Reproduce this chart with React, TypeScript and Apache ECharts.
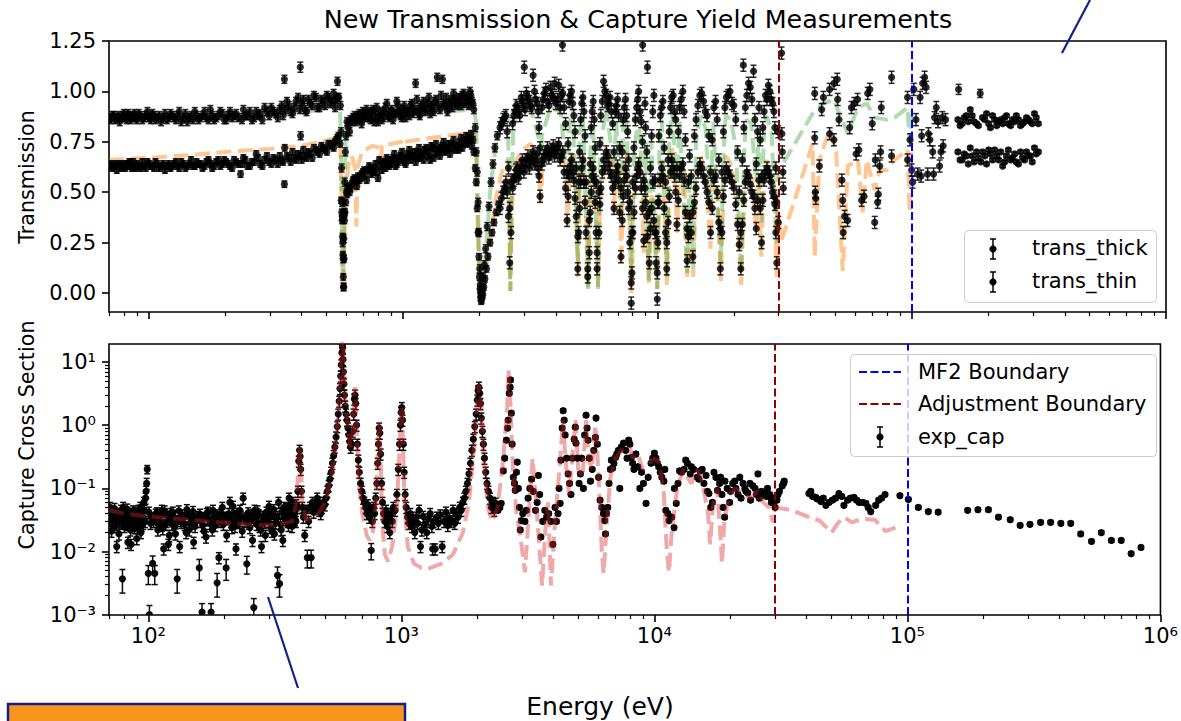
import { useEffect, useRef } from "react";
import * as echarts from "echarts";

// ---- axis ranges and ticks ----
const ENERGY_RANGE = [69.9, 1.0001e6];
const TRANS_RANGE = [-0.094, 1.25];
const CAP_RANGE = [0.00099, 19.3];

const MF2_BOUNDARY = 1e5;
const ADJUSTMENT_BOUNDARY = 3e4;

const ENERGY_MAJOR_TICKS = [1e2, 1e3, 1e4, 1e5, 1e6];
const ENERGY_MINOR_TICKS = [
  70, 80, 90, 200, 300, 400, 500, 600, 700, 800, 900, 2e3, 3e3, 4e3, 5e3, 6e3, 7e3, 8e3, 9e3,
  2e4, 3e4, 4e4, 5e4, 6e4, 7e4, 8e4, 9e4, 2e5, 3e5, 4e5, 5e5, 6e5, 7e5, 8e5, 9e5,
];
const TRANS_TICKS = [0, 0.25, 0.5, 0.75, 1.0, 1.25];
const CAP_MAJOR_TICKS = [1e-3, 1e-2, 1e-1, 1, 10];
const CAP_MINOR_TICKS = [
  0.002, 0.003, 0.004, 0.005, 0.006, 0.007, 0.008, 0.009, 0.02, 0.03, 0.04, 0.05, 0.06, 0.07, 0.08,
  0.09, 0.2, 0.3, 0.4, 0.5, 0.6, 0.7, 0.8, 0.9, 2, 3, 4, 5, 6, 7, 8, 9,
];

// ---- measured transmission, thick sample: [energy eV, transmission, (uncertainty)] ----
const TRANS_THICK_LOW: number[][] = [
  [70,.63],[72,.62],[74,.64],[76,.63],[78,.62],[80,.64],[82,.63],[84,.65],[86,.62],[88,.63],[90,.64],[93,.62],[96,.63],[99,.65],[102,.63],[105,.62],[108,.64],[112,.63],[116,.61],[120,.64],[124,.63],[128,.65],[132,.62],[137,.64],[142,.63],[147,.66],[152,.63],[157,.64],[163,.62],[169,.65],[175,.64],[181,.63],[188,.66],[195,.64],[202,.65],[209,.63],[217,.66],[225,.64],[230,.59],[236,.67],[245,.63],[255,.65],[265,.69],[275,.64],[286,.66],[298,.65],[310,.67],[322,.64],[334,.66],[342,.54],[343,.72],[350,.68],[362,.65],[374,.67],[387,.69],[400,.66],[412,.68],[425,.70],[440,.67],[455,.71],[470,.69],[486,.72],[502,.70],[518,.74],[534,.72],[548,.76],[558,.78],[566,.74],
  [71,.64],[73,.63],[75,.61],[77,.64],[79,.63],[81,.62],[83,.64],[85,.63],[87,.65],[89,.62],[91.5,.63],[94.5,.65],[97.5,.62],[100.5,.64],[103.5,.63],[106.5,.65],[110,.62],[114,.64],[118,.63],[122,.62],[126,.64],[130,.63],[134.5,.65],[139.5,.62],[144.5,.64],[149.5,.63],[154.5,.65],[160,.64],[166,.63],[172,.66],[178,.62],[184.5,.65],[191.5,.63],[198.5,.66],[205.5,.64],[213,.62],[221,.65],[233,.64],[240,.66],[250,.63],[260,.65],[270,.67],[280,.63],[292,.68],[304,.64],[316,.66],[328,.68],[338,.65],[356,.67],[368,.70],[380,.66],[393,.68],[406,.71],[418,.67],[432,.69],[447,.72],[462,.70],[478,.73],[494,.71],[510,.74],[526,.73],[541,.75],[553,.77],
  [572,.46],[575,.40],[577,.36],[579,.28],[581,.19],[583,.08],[585,.03],[587,.17],[589,.36],[592,.40],[596,.45],[600,.50],[604,.49],[608,.52],
  [612,.53],[622,.52],[637,.56],[652,.55],[666,.58],[681,.57],[696,.60],[712,.58],[729,.61],[746,.62],[763,.60],[780,.64],[798,.57],[817,.63],[835,.65],[854,.62],[874,.66],[894,.64],[915,.67],[936,.63],[957,.65],[979,.68],[1001,.66],[1024,.64],[1048,.69],[1072,.66],[1097,.68],[1122,.65],[1148,.70],[1166,.67],[1193,.69],[1220,.71],[1250,.68],[1280,.66],[1307,.72],[1335,.69],[1365,.71],[1397,.68],[1430,.73],[1462,.70],[1496,.72],[1530,.69],[1565,.74],[1600,.71],[1637,.73],[1674,.75],[1712,.72],[1752,.76],[1793,.74],[1834,.77],[1866,.73],[1900,.70],[1925,.62],
  [617,.50],[630,.54],[645,.57],[659,.53],[674,.56],[688,.59],[704,.61],[720,.56],[737,.63],[754,.59],[771,.62],[789,.60],[807,.66],[826,.61],[844,.64],[864,.67],[884,.63],[904,.66],[925,.69],[946,.64],[968,.67],[990,.70],[1012,.65],[1036,.67],[1060,.71],[1085,.68],[1110,.70],[1135,.67],[1157,.72],[1180,.69],[1207,.66],[1235,.72],[1265,.70],[1294,.73],[1321,.67],[1350,.74],[1381,.70],[1413,.72],[1446,.75],[1479,.71],[1513,.74],[1547,.72],[1582,.76],[1618,.73],[1655,.71],[1693,.77],[1732,.74],[1772,.78],[1813,.75],[1850,.79],[1883,.76],
  [1942,.55],[1960,.42],[1975,.30],[1990,.18],[2000,.08],[2010,.02],[2020,-.02],[2030,-.04],[2045,.00],[2060,-.01],[2080,.03],[2100,.07],[2130,.12],[2160,.18],[2200,.25],[2240,.30],[2280,.35],[2330,.40],[2380,.44],
];
const TRANS_THICK_MID: number[][] = [
  [2410,.42],[2480,.50],[2540,.55],[2600,.38],[2630,.15],[2660,.30],[2700,.52],[2760,.58],[2820,.62],[2880,.60],[2950,.66],[3020,.63],[3100,.68],[3170,.65],[3250,.70],[3330,.66],[3400,.62],[3460,.48],[3520,.64],[3600,.68],[3700,.72],[3800,.69],[3900,.73],[4000,.70],[4100,.74],[4200,.68],[4300,.60],[4420,.36],[4500,.58],[4600,.66],[4700,.56],[4800,.38],[4870,.12],[4950,.42],[5050,.62],[5150,.55],[5250,.30],[5330,.08],[5400,.20],[5500,.50],[5600,.62],[5700,.45],[5800,.12],[5900,.30],[6000,.52],[6150,.66],[6300,.70],[6450,.64],[6600,.58],[6760,.42],[6900,.60],[7050,.56],[7200,.18],[7350,.48],[7500,.62],[7650,.50],[7800,.25],[7900,-.05],[7950,.10],[8100,.40],[8300,.58],[8450,.64],[8650,.52],[8850,.26],[9000,.45],[9150,.28],[9300,.15],[9500,.42],[9700,.36],[9900,.15],[10000,-.03],[10150,.45],[10400,.62],[10650,.42],[10900,.12],[11150,.48],[11400,.66],[11700,.58],[11950,.34],[12250,.58],[12600,.64],[12900,.40],[13100,.16],[13400,.38],[13800,.18],[14200,.52],[14700,.64],[15200,.58],[15700,.50],[16200,.30],[16700,.56],[17200,.50],[17700,.12],[18200,.48],[18700,.62],[19300,.58],[20000,.52],[20700,.34],[21300,.12],[21900,.46],[22500,.60],[23200,.54],[23900,.48],[24500,.32],[25100,.56],[25700,.25],[26300,.56],[27000,.62],[27700,.58],[28400,.50],[29000,.44],[29500,.15],[29900,.35],
  [2440,.47],[2510,.52],[2570,.50],[2730,.56],[2790,.61],[2850,.57],[2920,.63],[2990,.60],[3060,.66],[3140,.62],[3210,.67],[3290,.64],[3370,.69],[3430,.58],[3560,.66],[3650,.70],[3750,.67],[3850,.71],[3950,.68],[4050,.72],[4150,.66],[4250,.70],[4360,.52],[4460,.48],[4550,.63],[4650,.60],[4750,.47],[4910,.30],[5000,.55],[5100,.66],[5200,.45],[5450,.40],[5550,.58],[5650,.56],[5750,.30],[5950,.44],[6080,.60],[6220,.62],[6380,.68],[6520,.60],[6680,.52],[6830,.55],[6980,.63],[7120,.40],[7280,.36],[7420,.56],[7580,.58],[7720,.42],[8020,.30],[8200,.52],[8380,.62],[8550,.60],[8750,.42],[8950,.52],[9100,.38],[9400,.32],[9600,.55],[9800,.30],[10050,.25],[10280,.56],[10520,.58],[10780,.30],[11030,.35],[11280,.60],[11550,.62],[11820,.50],[12100,.46],[12420,.62],[12750,.56],[13250,.28],[13600,.30],[14000,.45],[14450,.60],[14950,.62],[15450,.55],[15950,.45],[16450,.42],[16950,.58],[17450,.35],[17950,.30],[18450,.56],[19000,.60],[19650,.55],[20350,.44],[21000,.24],[21600,.34],[22200,.55],[22850,.58],[23550,.50],[24200,.42],[24800,.46],[25400,.42],[26000,.46],[26650,.60],[27350,.60],[28050,.55],[28750,.48],[29250,.30],
  [30900,.79],[31000,.70],[31200,.60],[31300,.52],[41600,.77],[41800,.50],[42000,.47],[43400,.63],[47600,.79],[49500,.76],[53200,.56],[53600,.46],[53800,.30],[54500,.38],[56000,.36],[60500,.69],[62000,.71],[63600,.46],[65000,.48],[71600,.35],[72000,.66],[73500,.45],[74000,.49],[74900,.63],[75500,.70],[83400,.68],[96400,.66],[98500,.76],[100000,.61],[100900,.55],[105600,.59],[109000,.58],[109500,.78],[115600,.59],[116500,.79],[118000,.76],[121000,.70],[122000,.59],[128800,.63],[130500,.70],[133000,.73],
];
const TRANS_THICK_HIGH: number[][] = [
  [152000,.70],[158000,.66],[164000,.68],[170000,.72],[176000,.65],[183000,.67],[190000,.70],[197000,.64],[204000,.69],[212000,.71],[220000,.66],[228000,.63],[236000,.68],[245000,.66],[254000,.69],[263000,.64],[273000,.67],[283000,.70],[293000,.68],[304000,.72],[315000,.70],
  [155000,.66],[161000,.69],[167000,.64],[173000,.68],[180000,.70],[187000,.65],[194000,.68],[201000,.71],[208000,.66],[216000,.68],[224000,.70],[232000,.65],[240000,.71],[249000,.67],[258000,.65],[268000,.70],[278000,.66],[288000,.68],[298000,.65],[309000,.69],
];

// ---- measured transmission, thin sample ----
const TRANS_THIN_LOW: number[][] = [
  [70,.87],[72,.88],[74,.86],[76,.88],[78,.87],[80,.89],[82,.86],[84,.88],[86,.87],[88,.89],[90,.86],[93,.88],[96,.87],[99,.90],[102,.86],[105,.88],[108,.87],[112,.85],[116,.89],[120,.87],[124,.88],[128,.86],[132,.90],[137,.87],[142,.85],[147,.88],[152,.90],[157,.86],[163,.88],[169,.87],[175,.91],[181,.86],[188,.88],[195,.89],[202,.86],[209,.90],[217,.88],[225,.87],[236,.91],[245,.88],[255,.86],[265,.90],[275,.89],[286,.92],[298,.88],[310,.90],[322,.87],[334,.93],[342,1.06,.02],[345,.91],[350,.95],[362,.90],[374,.92],[387,.97],[395,1.12,.025],[396,.78],[400,.94],[412,.91],[425,.96],[440,.93],[455,.97],[470,.92],[486,.95],[502,.98],[518,.94],[534,.99],[546,.96],[553,1.05],[560,.97],[568,.93],
  [71,.86],[73,.88],[75,.87],[77,.85],[79,.88],[81,.87],[83,.89],[85,.86],[87,.88],[89,.87],[91.5,.89],[94.5,.86],[97.5,.88],[100.5,.87],[103.5,.89],[106.5,.86],[110,.88],[114,.87],[118,.86],[122,.89],[126,.87],[130,.88],[134.5,.85],[139.5,.89],[144.5,.87],[149.5,.86],[154.5,.88],[160,.87],[166,.90],[172,.86],[178,.88],[184.5,.87],[191.5,.90],[198.5,.86],[205.5,.88],[213,.87],[221,.89],[233,.86],[240,.88],[250,.90],[260,.87],[270,.88],[280,.86],[292,.90],[304,.92],[316,.89],[328,.91],[338,.88],[356,.93],[368,.89],[380,.95],[393,.91],[406,.96],[418,.90],[432,.94],[447,.98],[462,.92],[478,.96],[494,.93],[510,.97],[526,.95],[541,.92],[553,.97],
  [571,.80],[574,.62],[576,.45],[578,.38],[580,.25],[582,.17],[584,.03],[586,.27],[588,.40],[591,.55],[594,.70],[598,.78],[603,.85],[608,.82],
  [612,.84],[622,.86],[637,.87],[652,.85],[666,.88],[681,.86],[696,.90],[712,.87],[729,.89],[746,.86],[763,.91],[780,.88],[798,.85],[817,.90],[835,.87],[854,.92],[874,.88],[894,.90],[915,.86],[936,.89],[957,.93],[979,.88],[1001,.91],[1024,.87],[1048,.90],[1072,.93],[1097,.89],[1122,1.04],[1148,.91],[1166,.88],[1193,.92],[1220,.90],[1250,.94],[1280,.89],[1307,.92],[1335,.95],[1365,1.07],[1397,.91],[1430,1.06],[1462,.93],[1496,.90],[1530,.94],[1565,.92],[1600,.96],[1637,.93],[1674,.95],[1712,.98],[1752,.94],[1793,.97],[1834,1.00],[1866,.95],[1900,.91],[1925,.82],
  [617,.80],[630,.85],[645,.88],[659,.86],[674,.89],[688,.84],[704,.88],[720,.91],[737,.87],[754,.90],[771,.85],[789,.92],[807,.88],[826,.86],[844,.90],[864,.94],[884,.87],[904,.91],[925,.89],[946,.95],[968,.90],[990,.87],[1012,.93],[1036,.90],[1060,.88],[1085,.94],[1110,.91],[1135,.96],[1157,.89],[1180,.93],[1207,.95],[1235,.91],[1265,.97],[1294,.93],[1321,.90],[1350,.96],[1381,.93],[1413,.98],[1446,.94],[1479,.97],[1513,.92],[1547,.96],[1582,.99],[1618,.94],[1655,.97],[1693,.93],[1732,.99],[1772,.96],[1813,.93],[1850,.98],[1883,.94],
  [1942,.70],[1960,.60],[1975,.45],[1990,.30],[2005,.12],[2015,.04],[2025,.00],[2040,-.03],[2055,.02],[2070,.08],[2090,.14],[2115,.22],[2145,.33],[2180,.43],[2220,.55],[2260,.64],[2300,.72],[2350,.78],
];
const TRANS_THIN_MID: number[][] = [
  [2410,.82],[2480,.86],[2540,.88],[2600,.62],[2630,.42],[2660,.55],[2700,.84],[2760,.90],[2820,.92],[2880,.88],[2950,.95],[3000,1.12],[3020,.91],[3100,.97],[3170,.93],[3250,1.08],[3330,.96],[3400,.90],[3460,.72],[3520,.92],[3600,.99],[3700,.95],[3800,1.02],[3900,.97],[4000,.94],[4100,1.03],[4200,.98],[4240,1.23],[4300,.92],[4420,.60],[4500,.95],[4600,1.00],[4700,.88],[4800,.62],[4870,.28],[4950,.70],[5050,.94],[5150,.90],[5250,.55],[5330,.12],[5400,.36],[5500,.82],[5600,.95],[5700,.72],[5800,.20],[5900,.50],[6000,.88],[6150,1.05],[6300,.98],[6450,.94],[6600,.90],[6760,.70],[6900,.93],[7050,.88],[7200,.52],[7350,.86],[7500,.96],[7650,.80],[7800,.45],[7900,.05],[7950,.30],[8100,.72],[8300,.92],[8450,1.00],[8650,.85],[8760,1.23],[8850,.56],[9000,.82],[9150,1.12],[9300,.40],[9500,.78],[9700,.98],[9900,.30],[10000,.10],[10150,.78],[10400,.92],[10650,.72],[10900,.25],[11150,.80],[11400,.97],[11700,.90],[11950,.62],[12250,.92],[12600,1.00],[12900,.76],[13100,.32],[13400,.68],[13800,.40],[14200,.86],[14700,.98],[15200,.95],[15700,.88],[16200,.60],[16700,.92],[17200,.86],[17700,.32],[18200,.80],[18700,.97],[19300,1.00],[20000,.93],[20700,.70],[21300,.30],[21800,1.13],[21900,.82],[22500,.98],[23200,1.02],[23900,1.10],[24500,.64],[25100,.92],[25700,.58],[26300,.90],[27000,.96],[27700,1.00],[28400,.94],[29000,.82],[29500,.45],[29900,.80],
  [2440,.84],[2510,.87],[2570,.80],[2730,.88],[2790,.93],[2850,.90],[2920,.97],[2990,.93],[3060,.99],[3140,.95],[3210,.92],[3290,1.00],[3370,.94],[3430,.82],[3560,.96],[3650,1.01],[3750,.93],[3850,.98],[3950,1.04],[4050,.96],[4150,.92],[4250,.99],[4360,.84],[4460,.74],[4550,.98],[4650,.94],[4750,.80],[4910,.55],[5000,.86],[5100,.97],[5200,.78],[5450,.64],[5550,.90],[5650,.86],[5750,.55],[5950,.74],[6080,.95],[6220,1.00],[6380,.93],[6520,.97],[6680,.84],[6830,.90],[6980,.96],[7120,.72],[7280,.70],[7420,.92],[7580,.88],[7720,.66],[8020,.55],[8200,.86],[8380,.96],[8550,.90],[8750,.75],[8950,.94],[9100,.70],[9400,.62],[9600,.90],[9800,.56],[10050,.45],[10280,.88],[10520,.95],[10780,.55],[11030,.66],[11280,.92],[11550,.98],[11820,.86],[12100,.80],[12420,.96],[12750,.90],[13250,.55],[13600,.58],[14000,.78],[14450,.93],[14950,.99],[15450,.90],[15950,.78],[16450,.76],[16950,.95],[17450,.66],[17950,.60],[18450,.92],[19000,.98],[19650,.94],[20350,.86],[21000,.50],[21600,.66],[22200,.92],[22850,1.04],[23550,.96],[24200,.86],[24800,.80],[25400,.76],[26000,.82],[26650,.98],[27350,1.03],[28050,.96],[28750,.90],[29250,.62],
  [30800,1.19],[41600,.99],[44300,.91],[45000,.97],[47600,1.01],[49500,1.04],[51000,1.06],[51200,.96],[51800,.86],[57100,.82],[58000,.92],[59500,.94],[61300,.96],[67200,.99],[68500,1.01],[70000,.84],[76000,.92],[83400,1.07],[96400,.97],[102000,1.01],[104000,.86],[108000,.97],[110500,1.04],[112500,1.07],[114000,1.02],[123100,.87],[125000,.92],[127000,.85],[132000,.87],[136000,.86],
];
const TRANS_THIN_HIGH: number[][] = [
  [152000,.86],[153000,1.01,.025],[158000,.84],[164000,.88],[170000,.91],[176000,.85],[183000,.83],[186000,.99,.02],[190000,.87],[197000,.89],[204000,.82],[212000,.86],[220000,.85],[228000,.84],[236000,.88],[245000,.83],[254000,.85],[263000,.86],[273000,.84],[283000,.87],[293000,.85],[304000,.89],[315000,.84],
  [155000,.83],[161000,.87],[167000,.85],[173000,.88],[180000,.84],[194000,.86],[201000,.84],[208000,.88],[216000,.83],[224000,.86],[232000,.87],[240000,.84],[249000,.86],[258000,.88],[268000,.83],[278000,.85],[288000,.86],[298000,.84],[309000,.87],
];

// ---- fitted transmission curves: [energy eV, transmission] ----
const FIT_THICK: number[][] = [
  [70,.66],[100,.67],[150,.685],[200,.70],[300,.715],[400,.73],[480,.75],[540,.77],[566,.76],[574,.45],[579,.08],[583,.02],[588,.25],[596,.52],[610,.63],[630,.68],[648,.62],[656,.33],[663,.62],[690,.70],[760,.73],[812,.72],[818,.62],[826,.73],[990,.75],[1002,.68],[1012,.75],[1300,.77],[1700,.79],[1900,.79],[1935,.70],[1962,.40],[1995,.05],[2030,-.01],[2070,.02],[2130,.12],[2220,.30],[2330,.48],[2450,.60],[2580,.66],[2620,.30],[2645,.01],[2670,.30],[2720,.62],[2900,.70],[3170,.74],[3400,.68],[3480,.45],[3560,.68],[3800,.74],[4160,.72],[4380,.60],[4440,.33],[4520,.62],[4650,.70],[4800,.50],[4870,.08],[4950,.50],[5100,.68],[5250,.40],[5340,.03],[5450,.45],[5590,.66],[5750,.40],[5850,.03],[5960,.45],[6290,.72],[6600,.66],[6760,.40],[6900,.65],[7100,.60],[7210,.14],[7350,.60],[7550,.70],[7780,.40],[7910,.00],[8100,.45],[8440,.68],[8700,.55],[8850,.20],[9000,.50],[9270,.05],[9480,.50],[9700,.40],[10000,.02],[10200,.55],[10420,.66],[10700,.40],[10900,.04],[11150,.55],[11420,.72],[11700,.60],[11960,.30],[12250,.66],[12800,.60],[13110,.08],[13400,.40],[13860,.08],[14200,.55],[14770,.68],[15470,.60],[16190,.22],[16600,.62],[17200,.55],[17760,.06],[18300,.55],[18590,.68],[19470,.64],[20390,.50],[21350,.04],[22000,.50],[22360,.62],[23410,.58],[24000,.45],[24510,.30],[25000,.55],[25660,.18],[26300,.60],[26870,.66],[28140,.55],[29000,.45],[29460,.08],[29900,.40],[30800,.26],[40800,.74],[41600,.18],[43400,.66],[47600,.81],[50500,.70],[53600,.11],[56100,.63],[61500,.66],[64200,.40],[66600,.66],[71600,.51],[74900,.61],[79800,.61],[85700,.66],[96400,.71],[98200,.40],[100000,.77],
];
const FIT_THIN: number[][] = [
  [70,.87],[200,.875],[400,.89],[540,.93],[566,.92],[573,.60],[578,.15],[582,.01],[587,.30],[596,.75],[612,.85],[700,.87],[1000,.89],[1500,.90],[1900,.91],[1940,.85],[1965,.55],[1995,.15],[2030,.00],[2070,.05],[2130,.25],[2220,.55],[2330,.75],[2450,.85],[2580,.88],[2625,.45],[2645,.01],[2670,.45],[2720,.85],[2900,.90],[3170,.92],[3450,.75],[3480,.62],[3520,.78],[3800,.92],[4160,.90],[4440,.55],[4520,.85],[4650,.90],[4870,.15],[4950,.80],[5100,.88],[5340,.02],[5450,.70],[5590,.85],[5850,.02],[5960,.70],[6290,.92],[6760,.62],[6900,.85],[7210,.40],[7350,.85],[7550,.88],[7910,.05],[8100,.70],[8440,.88],[8850,.45],[9000,.75],[9270,.05],[9480,.75],[10000,.02],[10200,.75],[10420,.86],[10900,.08],[11150,.75],[11420,.90],[11960,.55],[12250,.85],[13110,.10],[13400,.60],[13860,.12],[14200,.75],[14770,.88],[15470,.82],[16190,.42],[16600,.85],[17760,.15],[18300,.75],[18590,.88],[19470,.86],[20390,.72],[21350,.10],[22000,.72],[22360,.86],[23410,.84],[24510,.55],[25000,.78],[25660,.35],[26300,.82],[26870,.88],[28140,.80],[29460,.25],[29900,.60],[30800,.63],[40800,.89],[44900,.94],[49500,.96],[51200,.91],[56100,.79],[61500,.92],[66600,.94],[71600,.87],[79800,.86],[85700,.87],[96400,.92],[98200,.75],[100000,.92],
];

// ---- measured capture cross section: [energy eV, barn, (uncertainty)] ----
const CAP_REL_ERR_LOW = 0.2;
const CAP_REL_ERR_HIGH = 0.07;
const EXP_CAP_LOW: number[][] = [
  [70,.035],[71,.028],[72,.042],[73,.025],[74,.032],[75,.012],[76,.038],[77,.03],[78,.045],[79,.0037,.0015],[80,.034],[81,.04],[82,.027],[83,.014],[84,.036],[85,.022],[86,.031],[87,.044],[88,.024],[89,.033],[90,.016],[91,.038],[92,.029],[93,.05],[94,.026],[95,.035],[96,.06],[97,.03],[98,.09],[99,.2,.03],[100,.0045,.0015],[100.5,.042],[101,.001,.0004],[102,.028],[103,.034],[104,.0065,.002],[106,.0045,.0015],[107,.039],[109,.022],[111,.031],[113,.045],[115,.011],[117,.027],[119,.036],[121,.018],[123,.033],[125,.042],[127,.025],[130,.0037,.0015],[131,.031],[133,.012],[136,.038],[139,.027],[142,.046],[145,.022],[148,.035],[151,.014],[154,.03],[159,.0055,.002],[160,.039],[163,.0011,.0004],[164,.026],[167,.034],[169,.017],[172,.042],[175,.028],[177,.0011,.0004],[179,.022],[182,.036],[185,.031],[187,.0032,.0013],[190,.008],[194,.04],[198,.027],[203,.0055,.002],[206,.033],[210,.06],[214,.024],[218,.037],[222,.011],[226,.03],[230,.045],[235,.021],[240,.034],[245,.0064,.002],[250,.028],[255,.038],[258,.015],[261,.0013,.0005],[265,.032],[270,.044],[275,.025],[280,.012],[285,.031],[290,.018],[295,.036],[300,.052],[305,.024],[310,.04],[315,.019],[320,.033],[324,.0042,.0015],[327,.06],[330,.0031,.0012],[333,.027],[337,.042],[340,.015],[345,.035],[350,.048],[355,.03],[360,.07],[365,.038],[370,.025],[375,.045],[380,.032],[385,.055],[390,.09],[393,.27],[396,.40],[398,.32],[400,.2],[403,.09],[406,.05],[410,.035],[415,.018],[420,.045],[425,.008,.0025],[430,.03],[435,.05],[440,.008,.0025],[445,.06],[450,.042],[455,.055],[460,.048],[465,.07],[470,.06],
  [70.5,.05],[71.5,.021],[72.5,.033],[73.5,.048],[74.5,.027],[75.5,.04],[76.5,.019],[77.5,.036],[78.5,.028],[79.5,.05],[80.5,.025],[81.5,.033],[82.5,.047],[83.5,.029],[84.5,.04],[85.5,.013],[86.5,.037],[87.5,.026],[88.5,.042],[89.5,.03],[90.5,.024],[91.5,.045],[92.5,.035],[93.5,.02],[94.5,.04],[95.5,.028],[96.5,.045],[97.5,.07],[98.5,.12],[105,.03],[108,.041],[110,.026],[112,.037],[114,.023],[116,.044],[118,.03],[120,.013],[122,.04],[124,.027],[126,.035],[128,.019],[132,.044],[135,.029],[138,.034],[141,.02],[144,.037],[147,.028],[150,.043],[153,.025],[156,.036],[162,.03],[166,.021],[170,.04],[174,.032],[180,.045],[184,.026],[188,.038],[192,.03],[196,.05],[200,.035],[204,.018],[208,.04],[212,.03],[216,.052],[220,.025],[224,.04],[228,.029],[232,.036],[237,.07],[243,.03],[248,.041],[252,.024],[257,.035],[263,.045],[268,.027],[273,.038],[278,.022],[283,.036],[288,.029],[293,.042],[298,.03],[303,.037],[308,.021],[313,.046],[318,.028],[323,.036],[335,.022],[343,.05],[348,.032],[353,.04],[358,.026],[363,.05],[368,.034],[373,.06],[378,.04],[383,.03],[388,.05],
  [474,.045],[480,.04],[486,.05],[492,.06],[498,.055],[504,.07],[510,.09],[516,.11],[522,.14],[528,.18],[534,.25],[540,.33],[546,.45],[552,.65],[558,.95],[563,1.5],[568,2.4],[572,3.8],[576,6],[579,9],[582,14],[584,19],[586,17],[588,11],[590,7],[593,4.5],[596,3],[600,2],[605,1.5],[610,1.2],[615,.9],[620,.7],[625,.55],[630,.45],[636,.5],[642,.8],[648,1.5],[652,2.6],[656,3.0],[660,2.2],[665,1.0],[670,.5],[676,.28],[682,.18],[690,.12],[698,.09],[706,.07],[714,.06],[722,.05],[730,.04],[738,.055],[746,.035],[754,.045],[760,.0104,.003],[768,.03],[776,.05],[784,.04],[792,.07],[800,.12],[806,.25],[812,.5],[817,.9],[822,.75],[828,.35],[835,.12],[842,.06],[850,.04],[860,.03],[870,.045],[880,.025],[890,.035],[900,.02],[910,.04],[920,.03],[930,.05],[945,.045],[960,.08],[972,.2],[984,.5],[992,1.0],[998,1.6],[1004,1.9],[1010,1.2],[1018,.5],[1026,.18],[1035,.08],[1045,.05],[1058,.035],[1070,.028],[1085,.04],[1100,.025],[1115,.032],[1130,.02],[1145,.035],[1160,.028],[1175,.045],[1190,.012],[1205,.022],[1220,.036],[1240,.027],[1260,.02],[1280,.033],[1300,.04],[1320,.025],[1330,.011],[1340,.03],[1360,.011],[1380,.035],[1400,.028],[1425,.038],[1450,.012],[1475,.03],[1500,.042],[1525,.026],[1550,.034],[1575,.03],[1600,.045],[1625,.028],[1650,.04],[1675,.035],[1700,.05],[1725,.045],[1750,.06],[1775,.07],[1800,.09],[1825,.12],[1850,.17],[1875,.25],[1900,.4],[1925,.6],[1950,.95],[1975,1.5],[1995,2.5],[2010,3.5],[2025,4.0],[2040,3.2],[2055,2.2],[2070,1.3],[2090,.8],[2110,.5],[2130,.3],[2155,.18],[2180,.12],[2210,.09],[2240,.07],[2270,.05],[2300,.06],[2330,.045],[2360,.058],
];
const EXP_CAP_HIGH: number[][] = [
  [2410,.045],[2480,.058],[2530,.19],[2600,.58],[2645,1.2],[2670,3.2],[2700,5.2],[2720,1.55],[2770,.15],[2820,.093],[2870,.26],[2900,.1],[2950,.022],[2980,.031],[3120,.045],[3270,.14],[3390,.045],[3480,.16],[3560,.017],[3690,.045],[3820,.04],[3970,.013],[4160,.04],[4240,.058],[4270,.28],[4360,1.7],[4440,.7],[4560,.17],[4680,.08],[4870,.93],[4900,.52],[5100,.17],[5240,.1],[5370,1.44],[5470,.58],[5590,.13],[5850,.64],[5880,1.3],[6100,.065],[6290,.04],[6360,.031],[6410,.019],[6540,.05],[6760,.28],[6840,.21],[7020,.31],[7210,.4],[7300,.1],[7550,.52],[7910,.58],[8110,.31],[8300,.2],[8600,.22],[8760,.1],[9270,.058],[9700,.25],[10000,.36],[10280,.25],[10550,.18],[10900,.13],[11000,.2],[11100,.045],[11420,.031],[11960,.024],[12000,.1],[12200,.058],[12570,.19],[13110,.2],[13500,.25],[13860,.17],[14000,.22],[14770,.15],[15170,.19],[15700,.12],[16000,.16],[16430,.083],[16960,.06],[17200,.18],[17760,.093],[18260,.15],[18500,.08],[18950,.035],[19000,.13],[19830,.06],[20000,.09],[20780,.13],[21000,.1],[21750,.15],[22000,.07],[22780,.10],[23000,.09],[23860,.12],[24000,.065],[25000,.1],[25660,.17],[26000,.07],[27000,.08],[27380,.085],[28000,.1],[28900,.072],[29000,.06],[30000,.05],
  [2450,.05],[2560,.3],[2630,.9],[2690,4],[2740,.5],[2800,.12],[2850,.18],[2930,.05],[3020,.04],[3080,.03],[3170,.07],[3220,.1],[3320,.09],[3440,.06],[3520,.08],[3620,.03],[3750,.035],[3900,.03],[4050,.05],[4100,.03],[4200,.1],[4320,.9],[4400,1.2],[4500,.3],[4620,.12],[4750,.3],[4820,.6],[4960,.3],[5040,.12],[5160,.3],[5300,.7],[5420,.9],[5530,.3],[5680,.2],[5760,.4],[5950,.5],[6020,.15],[6200,.05],[6470,.04],[6620,.12],[6700,.2],[6920,.25],[7100,.35],[7400,.45],[7700,.4],[7800,.3],[8000,.5],[8200,.25],[8450,.35],[8900,.18],[9050,.12],[9450,.15],[9850,.3],[10150,.3],[10400,.22],[10700,.15],[11300,.04],[11700,.035],[12400,.12],[12800,.18],[13300,.28],[14300,.2],[15000,.14],[15450,.2],[16200,.09],[16700,.05],[17500,.15],[18100,.12],[18700,.05],[19400,.1],[20400,.12],[21400,.08],[22400,.12],[23400,.085],[24500,.11],[25300,.08],[26500,.09],[27700,.075],[28600,.08],[29500,.06],
  [30500,.065],[30800,.08],[31200,.09],[32000,.11],[32400,.12],[32600,.13],[40800,.083],[41500,.09],[42200,.075],[43400,.072],[44000,.068],[45500,.062],[46500,.07],[47600,.054],[49000,.06],[50500,.065],[52000,.07],[53600,.083],[55000,.075],[56100,.054],[58000,.065],[59500,.07],[61500,.072],[63000,.065],[64500,.06],[66600,.06],[68500,.058],[70000,.05],[71600,.043],[74900,.054],[77000,.065],[79000,.07],[81600,.08],[93400,.077],[100900,.067],[110500,.05],[121000,.043],[132300,.042],[173000,.045],[190000,.046],[209000,.046],[229000,.035],[255000,.032],[279000,.026],[305000,.027],[336000,.029],[368000,.029],[404000,.028],[442000,.028],[484000,.019],[534000,.0145],[584000,.02],[640000,.015],[700000,.015],[766000,.0093],[838000,.0116],
];

// ---- fitted capture cross section ----
const FIT_CAP: number[][] = [
  [70,.045],[80,.04],[100,.036],[130,.033],[170,.03],[220,.028],[280,.026],[330,.027],[370,.03],[385,.06],[393,.3],[396,.45],[400,.3],[406,.06],[420,.032],[460,.035],[500,.06],[530,.16],[550,.5],[565,1.8],[575,6],[582,16],[586,25],[590,12],[596,4],[605,1.6],[615,.8],[630,.45],[640,.6],[648,1.8],[655,4],[660,2.5],[668,.6],[680,.12],[700,.04],[730,.018],[750,.015],[770,.02],[790,.05],[805,.3],[817,1.1],[826,.4],[840,.03],[860,.009],[885,.007],[920,.012],[960,.05],[985,.5],[1000,2],[1010,1.2],[1030,.05],[1060,.012],[1120,.0065],[1200,.0055],[1300,.0055],[1450,.0065],[1600,.009],[1750,.02],[1850,.06],[1950,.6],[2000,2.5],[2030,4.5],[2070,2],[2130,.2],[2200,.05],[2280,.03],[2400,.05],[2530,.3],[2620,2],[2650,7.5],[2690,3],[2760,.2],[2850,.04],[2940,.02],[3080,.0047],[3200,.05],[3300,.3],[3420,.05],[3600,.0029],[3700,.02],[3800,.06],[3900,.0029],[4050,.03],[4250,.3],[4350,1.2],[4450,.3],[4600,.08],[4800,.6],[4880,1.2],[5000,.2],[5200,.15],[5370,1.2],[5500,.3],[5650,.2],[5850,1.0],[6000,.2],[6200,.01],[6300,.0045],[6450,.02],[6700,.15],[7000,.3],[7400,.4],[8000,.45],[8200,.3],[8600,.35],[9000,.2],[9500,.25],[10000,.3],[10500,.25],[10900,.08],[11200,.01],[11420,.0047],[11700,.02],[12300,.1],[13000,.2],[13500,.15],[14000,.12],[14800,.2],[15500,.12],[16300,.04],[16610,.013],[17000,.05],[17700,.1],[18200,.02],[18500,.0065],[18900,.03],[19800,.08],[21000,.1],[22500,.08],[24000,.07],[25500,.09],[27000,.06],[28400,.05],[29400,.029],[30100,.05],[35000,.045],[40800,.035],[44900,.031],[50200,.02],[53000,.028],[56100,.035],[60400,.029],[66000,.033],[74300,.032],[82000,.021],[89700,.024],
];

const SUPERSCRIPT: Record<string, string> = {
  "-": "\u207b", "0": "\u2070", "1": "\u00b9", "2": "\u00b2", "3": "\u00b3", "4": "\u2074",
  "5": "\u2075", "6": "\u2076", "7": "\u2077", "8": "\u2078", "9": "\u2079",
};
const powerLabel = (v: number) =>
  "10" + String(Math.round(Math.log10(v))).split("").map((c) => SUPERSCRIPT[c]).join("");

const FONT = "DejaVu Sans";
const NAVY = "#14208a";
const TICK_FONT = 21;

const withErr = (rows: number[][], def: number) => rows.map((r) => [r[0], r[1], r.length > 2 ? r[2] : def]);
const withRelErr = (rows: number[][], rel: number) => rows.map((r) => [r[0], r[1], r.length > 2 ? r[2] : r[1] * rel]);

function errorBarRenderer(isLog: boolean, opacity: number) {
  return (_params: any, api: any) => {
    const x = api.value(0);
    const y = api.value(1);
    const e = api.value(2);
    const c = api.coord([x, y]);
    const low = isLog ? Math.max(y - e, y * 0.02) : y - e;
    const hi = api.coord([x, y + e]);
    const lo = api.coord([x, low]);
    const cap = 3;
    const stroke = { stroke: "#000", lineWidth: 1.5, opacity };
    return {
      type: "group",
      children: [
        { type: "line", shape: { x1: c[0], y1: hi[1], x2: c[0], y2: lo[1] }, style: stroke },
        { type: "line", shape: { x1: c[0] - cap, y1: hi[1], x2: c[0] + cap, y2: hi[1] }, style: stroke },
        { type: "line", shape: { x1: c[0] - cap, y1: lo[1], x2: c[0] + cap, y2: lo[1] }, style: stroke },
        { type: "circle", shape: { cx: c[0], cy: c[1], r: 3.6 }, style: { fill: "#000", opacity } },
      ],
    };
  };
}

function energyAxis(gridIndex: number, labels: boolean, minor: boolean) {
  return {
    type: "log",
    logBase: 10,
    gridIndex,
    position: "bottom",
    min: ENERGY_RANGE[0],
    max: ENERGY_RANGE[1],
    axisLine: { show: false, onZero: false },
    axisTick: {
      show: true,
      inside: false,
      length: minor ? 4 : 7,
      lineStyle: { color: "#000", width: minor ? 1.2 : 1.6 },
      customValues: minor ? ENERGY_MINOR_TICKS : ENERGY_MAJOR_TICKS,
    },
    axisLabel: labels
      ? { show: true, customValues: ENERGY_MAJOR_TICKS, formatter: powerLabel, fontSize: TICK_FONT, fontFamily: FONT, color: "#000", margin: 10 }
      : { show: false },
    splitLine: { show: false },
    minorTick: { show: false },
  };
}

function legendErrIcon(cx: number, cy: number) {
  const s = { stroke: "#000", lineWidth: 1.5 };
  return [
    { type: "line", z: 101, shape: { x1: cx, y1: cy - 10, x2: cx, y2: cy + 10 }, style: s },
    { type: "line", z: 101, shape: { x1: cx - 3, y1: cy - 10, x2: cx + 3, y2: cy - 10 }, style: s },
    { type: "line", z: 101, shape: { x1: cx - 3, y1: cy + 10, x2: cx + 3, y2: cy + 10 }, style: s },
    { type: "circle", z: 101, shape: { cx, cy, r: 3.6 }, style: { fill: "#000" } },
  ];
}

function label(text: string, x: number, y: number, size: number, extra: any = {}) {
  return {
    type: "text",
    z: 101,
    x,
    y,
    ...extra,
    style: { text, fontSize: size, fontFamily: FONT, fill: "#000", align: extra.align || "left", verticalAlign: "middle" },
  };
}

const boundaryLines = {
  symbol: ["none", "none"],
  silent: true,
  label: { show: false },
  data: [
    { xAxis: MF2_BOUNDARY, lineStyle: { color: "#0000ff", width: 2, type: [8, 3.5], opacity: 1 } },
    { xAxis: ADJUSTMENT_BOUNDARY, lineStyle: { color: "#8b0000", width: 2, type: [8, 3.5], opacity: 1 } },
  ],
};

export default function App() {
  const ref = useRef<HTMLDivElement>(null);

  useEffect(() => {
    document.body.style.margin = "0";
    if (!ref.current) return;
    const chart = echarts.init(ref.current, null, { renderer: "svg" });

    const thick = [...withErr(TRANS_THICK_LOW, 0.016), ...withErr(TRANS_THICK_MID, 0.03), ...withErr(TRANS_THICK_HIGH, 0.008)];
    const thin = [...withErr(TRANS_THIN_LOW, 0.02), ...withErr(TRANS_THIN_MID, 0.03), ...withErr(TRANS_THIN_HIGH, 0.008)];
    const cap = [...withRelErr(EXP_CAP_LOW, CAP_REL_ERR_LOW), ...withRelErr(EXP_CAP_HIGH, CAP_REL_ERR_HIGH)];

    const option: any = {
      animation: false,
      backgroundColor: "#ffffff",
      grid: [
        { left: 109, top: 41, width: 1057, height: 271, show: true, borderColor: "#000", borderWidth: 1.6, backgroundColor: "transparent" },
        { left: 109, top: 344, width: 1057, height: 271, show: true, borderColor: "#000", borderWidth: 1.6, backgroundColor: "transparent" },
      ],
      xAxis: [energyAxis(0, false, false), energyAxis(0, false, true), energyAxis(1, true, false), energyAxis(1, false, true)],
      yAxis: [
        {
          type: "value",
          gridIndex: 0,
          min: TRANS_RANGE[0],
          max: TRANS_RANGE[1],
          axisLine: { show: false, onZero: false },
          axisTick: { show: true, length: 7, lineStyle: { color: "#000", width: 1.6 }, customValues: TRANS_TICKS },
          axisLabel: {
            customValues: TRANS_TICKS,
            formatter: (v: number) => v.toFixed(2),
            fontSize: TICK_FONT,
            fontFamily: FONT,
            color: "#000",
            margin: 13,
          },
          splitLine: { show: false },
        },
        {
          type: "log",
          logBase: 10,
          gridIndex: 1,
          min: CAP_RANGE[0],
          max: CAP_RANGE[1],
          axisLine: { show: false, onZero: false },
          axisTick: { show: true, length: 7, lineStyle: { color: "#000", width: 1.6 }, customValues: CAP_MAJOR_TICKS },
          axisLabel: { customValues: CAP_MAJOR_TICKS, formatter: powerLabel, fontSize: TICK_FONT, fontFamily: FONT, color: "#000", margin: 13 },
          splitLine: { show: false },
        },
        {
          type: "log",
          logBase: 10,
          gridIndex: 1,
          position: "left",
          min: CAP_RANGE[0],
          max: CAP_RANGE[1],
          axisLine: { show: false, onZero: false },
          axisTick: { show: true, length: 4, lineStyle: { color: "#000", width: 1.2 }, customValues: CAP_MINOR_TICKS },
          axisLabel: { show: false },
          splitLine: { show: false },
        },
      ],
      series: [
        {
          name: "fit_thick",
          type: "line",
          xAxisIndex: 0,
          yAxisIndex: 0,
          z: 1,
          symbol: "none",
          data: FIT_THICK,
          lineStyle: { color: "#ff7f0e", width: 4, opacity: 0.45, type: [15, 6.5] },
        },
        {
          name: "fit_thin",
          type: "line",
          xAxisIndex: 0,
          yAxisIndex: 0,
          z: 1,
          symbol: "none",
          data: FIT_THIN,
          lineStyle: { color: "#2ca02c", width: 4, opacity: 0.38, type: [15, 6.5] },
        },
        {
          name: "trans_thick",
          type: "custom",
          xAxisIndex: 0,
          yAxisIndex: 0,
          clip: true,
          z: 2,
          encode: { x: 0, y: 1 },
          renderItem: errorBarRenderer(false, 0.82),
          data: thick,
          markLine: { ...boundaryLines, z: 4 },
        },
        {
          name: "trans_thin",
          type: "custom",
          xAxisIndex: 0,
          yAxisIndex: 0,
          clip: true,
          z: 2,
          encode: { x: 0, y: 1 },
          renderItem: errorBarRenderer(false, 0.82),
          data: thin,
        },
        {
          name: "exp_cap",
          type: "custom",
          xAxisIndex: 2,
          yAxisIndex: 1,
          clip: true,
          z: 2,
          encode: { x: 0, y: 1 },
          renderItem: errorBarRenderer(true, 0.95),
          data: cap,
        },
        {
          name: "fit_cap",
          type: "line",
          xAxisIndex: 2,
          yAxisIndex: 1,
          z: 3,
          symbol: "none",
          data: FIT_CAP,
          lineStyle: { color: "#d62728", width: 4, opacity: 0.4, type: [15, 6.5] },
          markLine: boundaryLines,
        },
      ],
      graphic: [
        label("New Transmission & Capture Yield Measurements", 638, 19, 25.4, { align: "center" }),
        label("Transmission", 27, 177, 20.7, { align: "center", rotation: Math.PI / 2 }),
        label("Capture Cross Section", 27, 435, 20.7, { align: "center", rotation: Math.PI / 2 }),
        label("Energy (eV)", 600, 706, 25, { align: "center" }),
        // legend of the transmission panel
        { type: "rect", z: 100, shape: { x: 964.5, y: 230.5, width: 192, height: 72, r: 4 }, style: { fill: "rgba(255,255,255,0.8)", stroke: "#cccccc", lineWidth: 1 } },
        ...legendErrIcon(993, 249),
        label("trans_thick", 1032, 248, 21),
        ...legendErrIcon(993, 282),
        label("trans_thin", 1032, 281, 21),
        // legend of the capture panel
        { type: "rect", z: 100, shape: { x: 850.5, y: 354.5, width: 306, height: 102, r: 4 }, style: { fill: "rgba(255,255,255,0.8)", stroke: "#cccccc", lineWidth: 1 } },
        { type: "line", z: 101, shape: { x1: 859, y1: 372, x2: 901, y2: 372 }, style: { stroke: "#0000ff", lineWidth: 2, lineDash: [8, 3.5] } },
        label("MF2 Boundary", 918, 372, 21),
        { type: "line", z: 101, shape: { x1: 859, y1: 404, x2: 901, y2: 404 }, style: { stroke: "#8b0000", lineWidth: 2, lineDash: [8, 3.5] } },
        label("Adjustment Boundary", 918, 404, 21),
        ...legendErrIcon(880, 437),
        label("exp_cap", 918, 437, 21),
        // callout lines and box
        { type: "line", z: 102, shape: { x1: 1062, y1: 53, x2: 1090, y2: 0 }, style: { stroke: NAVY, lineWidth: 2.2 } },
        { type: "line", z: 102, shape: { x1: 268, y1: 597, x2: 298, y2: 688 }, style: { stroke: NAVY, lineWidth: 2.2 } },
        { type: "rect", z: 102, shape: { x: 8, y: 704, width: 397, height: 30 }, style: { fill: "#f7941e", stroke: NAVY, lineWidth: 2.5 } },
      ],
    };

    chart.setOption(option);
    return () => chart.dispose();
  }, []);

  return <div ref={ref} style={{ width: 1181, height: 721 }} />;
}
